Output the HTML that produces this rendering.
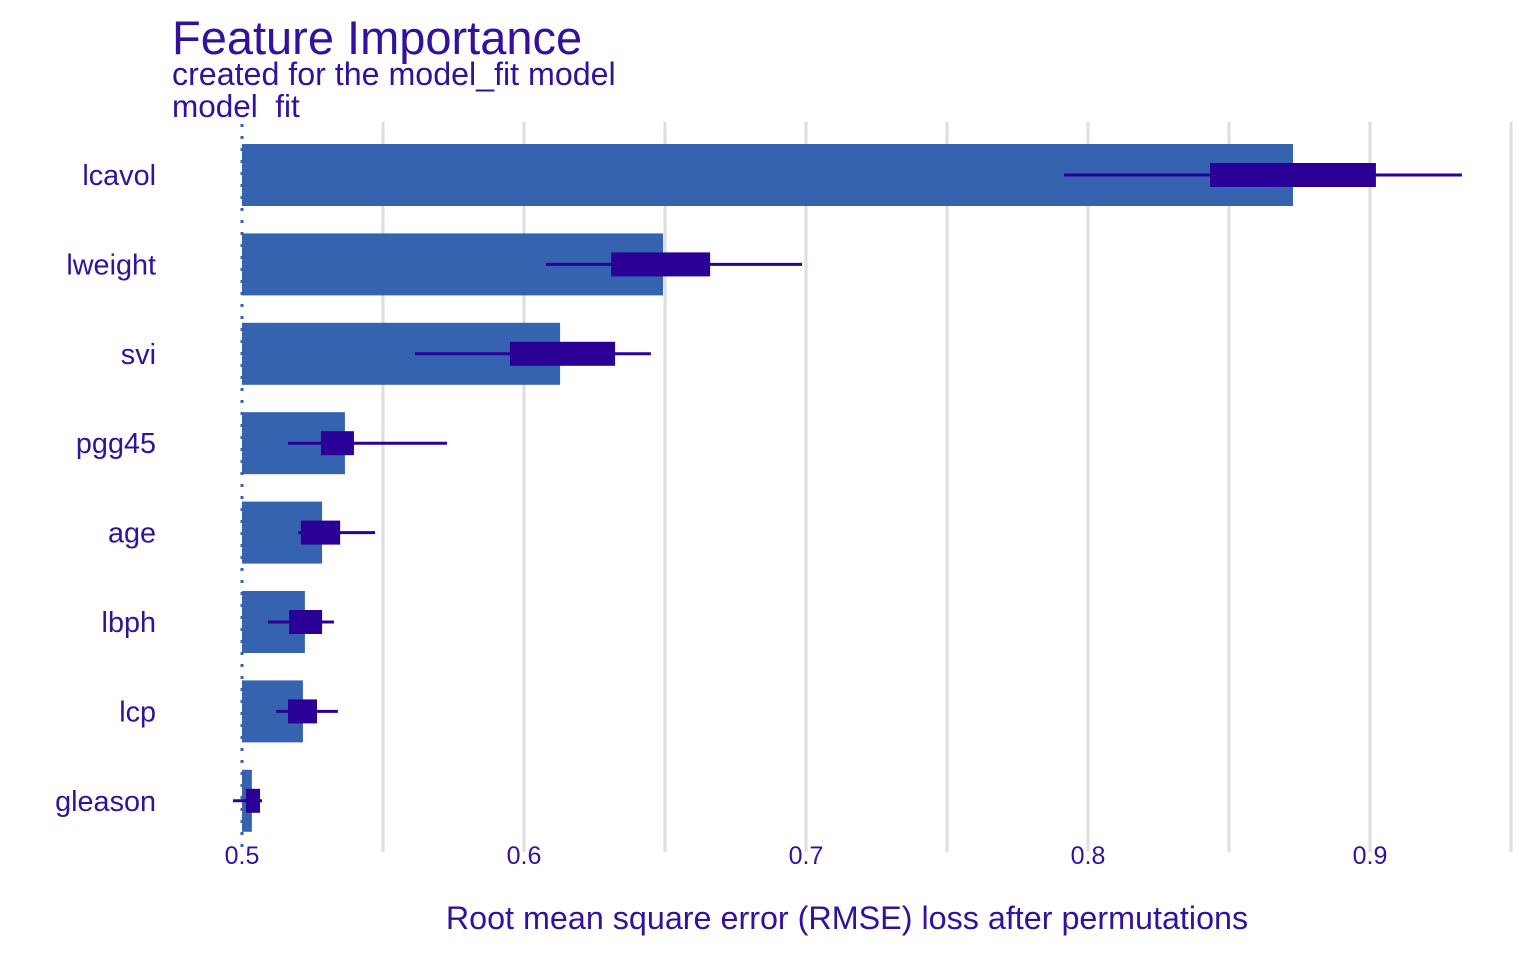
<!DOCTYPE html>
<html><head><meta charset="utf-8"><style>
body{margin:0;background:#fff;}
svg text{font-family:"Liberation Sans",Arial,sans-serif;fill:#33119e;white-space:pre;}
</style></head><body>
<svg width="1540" height="951" xmlns="http://www.w3.org/2000/svg">
<g id="grid"></g>
<g id="bars"></g>
<g id="labels"></g>
<text x="172" y="54" font-size="47">Feature Importance</text>
<text x="172" y="85" font-size="32.2">created for the model_fit model</text>
<text x="172" y="117" font-size="31.5" xml:space="preserve">model  fit</text>
<text x="847" y="929" font-size="32.3" text-anchor="middle">Root mean square error (RMSE) loss after permutations</text>
</svg>
<script>
const features=["lcavol","lweight","svi","pgg45","age","lbph","lcp","gleason"];
const barValues=[0.8727,0.6493,0.6128,0.5365,0.5284,0.5223,0.5216,0.5035];
const boxLow=[0.8433,0.6309,0.5950,0.5280,0.5209,0.5167,0.5163,0.5014];
const boxHigh=[0.9021,0.6660,0.6323,0.5397,0.5348,0.5284,0.5266,0.5064];
const whiskLow=[0.7915,0.6078,0.5613,0.5163,0.5199,0.5092,0.5121,0.4968];
const whiskHigh=[0.9326,0.6986,0.6450,0.5727,0.5472,0.5326,0.5340,0.5071];
const tickValues=[0.5,0.6,0.7,0.8,0.9];
const gridValues=[0.55,0.6,0.65,0.7,0.75,0.8,0.85,0.9,0.95];
const baseline=0.5;
const NS="http://www.w3.org/2000/svg";
const x=v=>242+(v-0.5)*2820;
const y=i=>175+i*89.4;
function mk(tag,attrs,parent){const e=document.createElementNS(NS,tag);for(const k in attrs)e.setAttribute(k,attrs[k]);parent.appendChild(e);return e;}
const G=document.getElementById('grid'),B=document.getElementById('bars'),L=document.getElementById('labels');
gridValues.forEach(v=>{const l=mk('line',{x1:x(v),x2:x(v),y1:122,y2:852,stroke:'#dedede','stroke-width':3},G);

});
tickValues.forEach(v=>{const t=mk('text',{x:x(v),y:864,'font-size':25,'text-anchor':'middle'},L);t.textContent=v.toFixed(1);

});
features.forEach((f,i)=>{
const cy=y(i);
const t=mk('text',{x:156,y:cy+10,'font-size':28.8,'text-anchor':'end'},L);t.textContent=f;


const r=mk('rect',{x:x(baseline),y:cy-31,width:x(barValues[i])-x(baseline),height:62,fill:'#3563b0'},B);


const w=mk('line',{x1:x(whiskLow[i]),x2:x(whiskHigh[i]),y1:cy,y2:cy,stroke:'#2a0096','stroke-width':3},B);


const bx=mk('rect',{x:x(boxLow[i]),y:cy-12,width:x(boxHigh[i])-x(boxLow[i]),height:24,fill:'#2a0096'},B);


});
const bl=mk('line',{x1:x(baseline),x2:x(baseline),y1:124,y2:856,stroke:'#3563b0','stroke-width':3,'stroke-dasharray':'3,9'},B);


</script>
</body></html>
